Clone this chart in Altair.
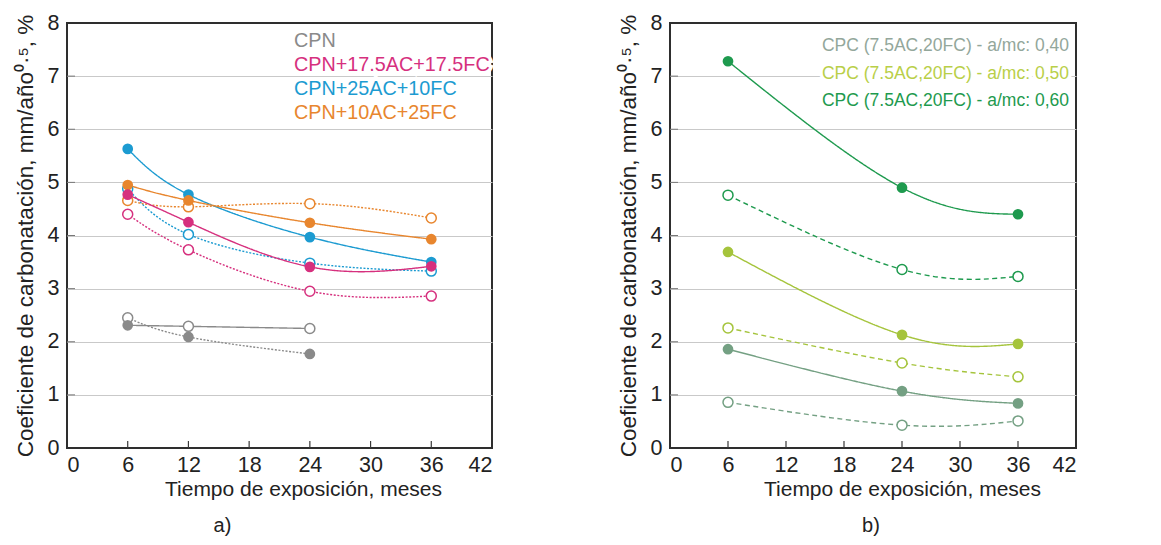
import altair as alt
import pandas as pd

FONT = "Liberation Sans"

# ---------------- data: panel a) ----------------
a_months4 = [6, 12, 24, 36]
a_months3 = [6, 12, 24]

a_cpn_solid = [2.31, 2.29, 2.25]
a_cpn_solid_filled = [True, False, False]
a_cpn_dash = [2.45, 2.09, 1.77]
a_cpn_dash_filled = [False, True, True]

a_mag_solid = [4.77, 4.25, 3.41, 3.42]
a_mag_dash = [4.40, 3.73, 2.95, 2.86]
a_cya_solid = [5.63, 4.77, 3.97, 3.50]
a_cya_dash = [4.88, 4.02, 3.48, 3.33]
a_ora_solid = [4.95, 4.66, 4.24, 3.93]
a_ora_dash = [4.66, 4.54, 4.60, 4.33]

a_labels = ["CPN", "CPN+17.5AC+17.5FC", "CPN+25AC+10FC", "CPN+10AC+25FC"]
a_colors = ["#8a8a8a", "#d6307e", "#1c9bd1", "#e8862e"]

# ---------------- data: panel b) ----------------
b_months = [6, 24, 36]
b_040_solid = [1.86, 1.07, 0.84]
b_040_dash = [0.86, 0.43, 0.51]
b_050_solid = [3.69, 2.13, 1.96]
b_050_dash = [2.26, 1.60, 1.34]
b_060_solid = [7.28, 4.90, 4.40]
b_060_dash = [4.76, 3.36, 3.23]

b_labels = ["CPC (7.5AC,20FC) - a/mc: 0,40",
            "CPC (7.5AC,20FC) - a/mc: 0,50",
            "CPC (7.5AC,20FC) - a/mc: 0,60"]
b_text_colors = ["#93a79b", "#b9cf48", "#1e9a4e"]
b_colors = ["#74a083", "#a5c43c", "#1e9a4e"]

x_ticks = [0, 6, 12, 18, 24, 30, 36, 42]
y_ticks = [0, 1, 2, 3, 4, 5, 6, 7, 8]


def rows(serie, estilo, xs, ys, filled):
    return [dict(serie=serie, estilo=estilo, id=serie + estilo, mes=x, v=y, lleno=f)
            for x, y, f in zip(xs, ys, filled)]


a_rows = []
a_rows += rows(a_labels[0], "solid", a_months3, a_cpn_solid, a_cpn_solid_filled)
a_rows += rows(a_labels[0], "dashed", a_months3, a_cpn_dash, a_cpn_dash_filled)
a_rows += rows(a_labels[2], "dashed", a_months4, a_cya_dash, [False] * 4)
a_rows += rows(a_labels[1], "dashed", a_months4, a_mag_dash, [False] * 4)
a_rows += rows(a_labels[3], "dashed", a_months4, a_ora_dash, [False] * 4)
a_rows += rows(a_labels[2], "solid", a_months4, a_cya_solid, [True] * 4)
a_rows += rows(a_labels[3], "solid", a_months4, a_ora_solid, [True] * 4)
a_rows += rows(a_labels[1], "solid", a_months4, a_mag_solid, [True] * 4)
df_a = pd.DataFrame(a_rows)

b_rows = []
b_rows += rows(b_labels[0], "dashed", b_months, b_040_dash, [False] * 3)
b_rows += rows(b_labels[1], "dashed", b_months, b_050_dash, [False] * 3)
b_rows += rows(b_labels[2], "dashed", b_months, b_060_dash, [False] * 3)
b_rows += rows(b_labels[0], "solid", b_months, b_040_solid, [True] * 3)
b_rows += rows(b_labels[1], "solid", b_months, b_050_solid, [True] * 3)
b_rows += rows(b_labels[2], "solid", b_months, b_060_solid, [True] * 3)
df_b = pd.DataFrame(b_rows)

Y_TITLE = "Coeficiente de carbonatación, mm/año⁰·⁵, %"
X_TITLE = "Tiempo de exposición, meses"


def panel(df, labels, line_colors, text_colors, width, height, dash, legend_x,
          legend_y0, legend_step, legend_size, legend_align, title_x, sub, sub_dx):
    xs = alt.X("mes:Q", scale=alt.Scale(domain=[0, 42], nice=False, zero=False),
               axis=alt.Axis(values=x_ticks, title=X_TITLE, grid=False, ticks=False,
                             domain=False, labelFontSize=21.5, labelColor="#222",
                             labelFont=FONT, titleFont=FONT, titleFontSize=21,
                             titleFontWeight="normal", titleColor="#222",
                             labelPadding=6, titlePadding=3, titleX=title_x))
    ys = alt.Y("v:Q", scale=alt.Scale(domain=[0, 8], nice=False),
               axis=alt.Axis(values=y_ticks, title=Y_TITLE, ticks=False, domain=False,
                             gridColor={"condition": {"test": "datum.value == 0 || datum.value == 8",
                                                      "value": "#2e2e2e"},
                                        "value": "#c9c9c9"},
                             gridWidth=1,
                             labelFontSize=21.5, labelColor="#222", labelFont=FONT,
                             titleFont=FONT, titleFontSize=22.5, titleFontWeight="normal",
                             titleColor="#222", labelPadding=8, titlePadding=10))
    col = alt.Color("serie:N", scale=alt.Scale(domain=labels, range=line_colors), legend=None)
    base = alt.Chart(df)
    lines = base.mark_line(interpolate="natural", strokeWidth=1.4).encode(
        x=xs, y=ys, color=col, detail="id:N",
        strokeDash=alt.StrokeDash("estilo:N", scale=alt.Scale(domain=["solid", "dashed"],
                                                            range=[[1, 0], dash]), legend=None))
    open_pts = base.transform_filter("!datum.lleno").mark_point(
        shape="circle", filled=False, fill="white", size=100, strokeWidth=1.5, opacity=1
    ).encode(x="mes:Q", y="v:Q", color=col)
    full_pts = base.transform_filter("datum.lleno").mark_point(
        shape="circle", filled=True, size=115, opacity=1
    ).encode(x="mes:Q", y="v:Q", color=col)

    tick_df = pd.DataFrame({"t": x_ticks[1:-1]})
    xtick = alt.Chart(tick_df).mark_rule(color="#3a3a3a", strokeWidth=1.2).encode(
        x="t:Q", y=alt.value(height - 7), y2=alt.value(height))
    ytick_df = pd.DataFrame({"t": y_ticks[1:-1]})
    ytick = alt.Chart(ytick_df).mark_rule(color="#777", strokeWidth=1).encode(
        y="t:Q", x=alt.value(0), x2=alt.value(8))

    layers = [lines, xtick, ytick, open_pts, full_pts]
    for i, (lab, c) in enumerate(zip(labels, text_colors)):
        tdf = pd.DataFrame({"label": [lab]})
        yy = legend_y0 + i * legend_step
        bg = alt.Chart(tdf).mark_text(align=legend_align, baseline="middle", font=FONT,
                                      fontSize=legend_size, fill="white", stroke="white",
                                      strokeWidth=7).encode(
            text="label:N", x=alt.value(legend_x), y=alt.value(yy))
        fg = alt.Chart(tdf).mark_text(align=legend_align, baseline="middle", font=FONT,
                                      fontSize=legend_size, color=c).encode(
            text="label:N", x=alt.value(legend_x), y=alt.value(yy))
        layers += [bg, fg]

    return alt.layer(*layers).properties(
        width=width, height=height,
        title=alt.TitleParams(sub, orient="bottom", font=FONT, fontSize=20,
                              fontWeight="normal", color="#222", offset=16, dx=sub_dx))


left = panel(df_a, a_labels, a_colors, a_colors, 425, 425, [2, 1.6],
             227, 18, 24, 19.8, "left", 236, "a)", -57)
right = panel(df_b, b_labels, b_colors, b_text_colors, 406, 425, [5, 3.5],
              399, 23, 27.5, 17.5, "right", 232, "b)", -2)

chart = alt.hconcat(left, right, spacing=123).resolve_scale(
    color="independent", strokeDash="independent").configure_view(
    stroke="#2e2e2e", strokeWidth=2).properties(padding={"left": 5, "top": 3, "right": 5, "bottom": 5})

chart.save("out.html", embed_options={"renderer": "svg", "actions": False})
